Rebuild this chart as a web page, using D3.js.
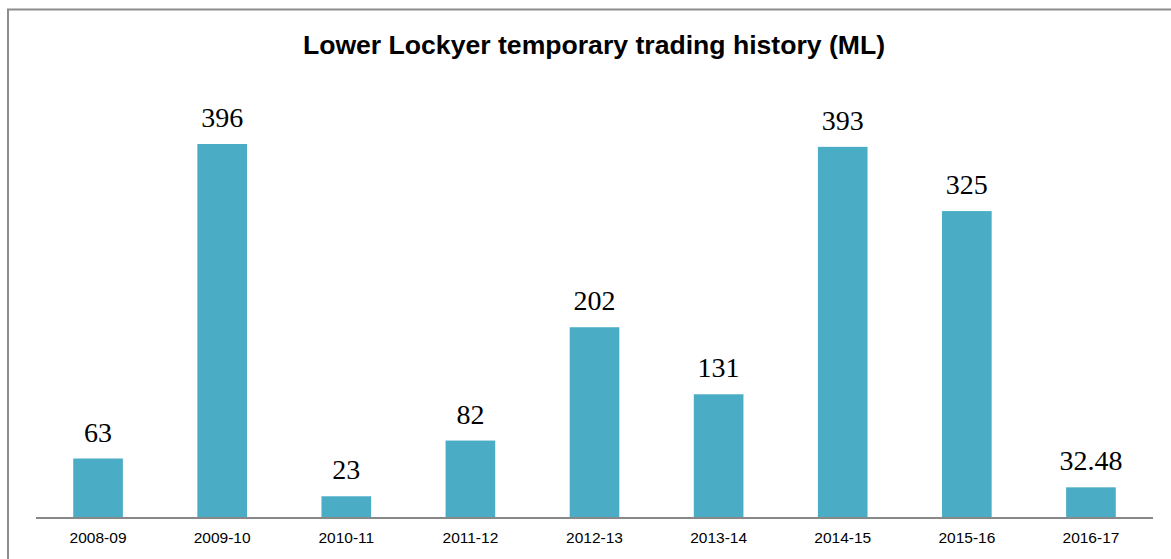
<!DOCTYPE html>
<html>
<head>
<meta charset="utf-8">
<script src="https://cdn.jsdelivr.net/npm/d3@7"></script>
<style>
  body { margin: 0; background: #fff; }
</style>
</head>
<body>
<svg id="chart" width="1171" height="559"></svg>
<script>
// Chart data
const years = ["2008-09", "2009-10", "2010-11", "2011-12", "2012-13", "2013-14", "2014-15", "2015-16", "2016-17"];
const volumes = [63, 396, 23, 82, 202, 131, 393, 325, 32.48];
const valueLabels = ["63", "396", "23", "82", "202", "131", "393", "325", "32.48"];

const svg = d3.select("#chart");
const width = +svg.attr("width");
const height = +svg.attr("height");

const left = 36, right = 1153, baseline = 518;

// Outer frame (left and top edges visible)
svg.append("path")
    .attr("d", `M8,${height} L8,9.5 L${width},9.5`)
    .attr("fill", "none")
    .attr("stroke", "#8c8c8c")
    .attr("stroke-width", 2);

const x = d3.scaleBand().domain(years).range([left, right]).paddingInner(0.6).paddingOuter(0.3);
const y = d3.scaleLinear().domain([0, 450]).range([baseline, baseline - 450 * 0.9444]);

// Title
svg.append("text")
    .attr("x", 594)
    .attr("y", 54)
    .attr("text-anchor", "middle")
    .style("font-family", "'Liberation Sans', Arial, sans-serif")
    .style("font-weight", "bold")
    .style("font-size", "26.6px")
    .text("Lower Lockyer temporary trading history (ML)");

// Bars
svg.selectAll(".bar")
    .data(volumes)
    .enter().append("rect")
    .attr("class", "bar")
    .attr("x", (d, i) => x(years[i]))
    .attr("y", d => y(d))
    .attr("width", x.bandwidth())
    .attr("height", d => baseline - y(d))
    .attr("fill", "#4bacc6");

// Value labels
svg.selectAll(".val")
    .data(volumes)
    .enter().append("text")
    .attr("class", "val")
    .attr("x", (d, i) => x(years[i]) + x.bandwidth() / 2)
    .attr("y", d => y(d) - 17)
    .attr("text-anchor", "middle")
    .style("font-family", "'Liberation Serif', 'DejaVu Serif', serif")
    .style("font-size", "28px")
    .text((d, i) => valueLabels[i]);

// X axis
const xAxis = svg.append("g")
    .attr("transform", `translate(0,${baseline})`)
    .call(d3.axisBottom(x).tickSize(0).tickPadding(14));
xAxis.select(".domain").attr("stroke", "#888").attr("stroke-width", 2)
    .attr("d", `M${left},0H${right}`);
xAxis.selectAll("text")
    .style("font-family", "'Liberation Sans', Arial, sans-serif")
    .style("font-size", "15.5px")
    .attr("fill", "#000");
</script>
</body>
</html>
